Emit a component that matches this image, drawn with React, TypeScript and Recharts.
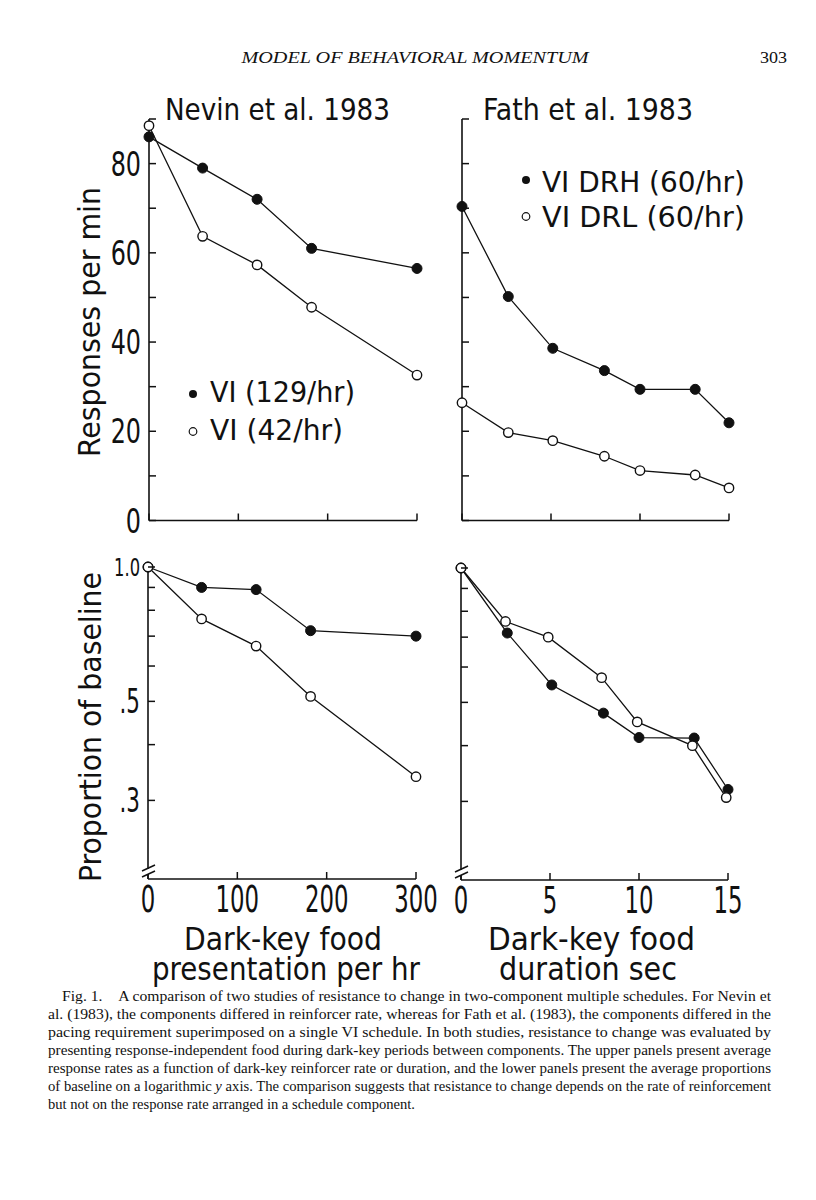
import { Line, LineChart, XAxis, YAxis } from 'recharts';

const SANS = "'DejaVu Sans Condensed', 'DejaVu Sans', sans-serif";
const SERIF = "'Liberation Serif', 'DejaVu Serif', serif";
const INK = '#111';

// Nevin et al. (1983): dark-key food presentations per hr
const nevinRate = [0, 60, 121, 182, 300];
const nevinRichRpm = [86, 79, 72, 61, 56.5]; // VI (129/hr)
const nevinLeanRpm = [88.5, 63.7, 57.3, 47.8, 32.6]; // VI (42/hr)
const nevinRichProp = [1.0, 0.9, 0.89, 0.72, 0.7];
const nevinLeanProp = [1.0, 0.765, 0.665, 0.513, 0.339];

// Fath et al. (1983): dark-key food duration, sec
const fathDur = [0, 2.6, 5.1, 8, 10, 13.1, 15];
const fathDrlDur = [0, 2.5, 4.9, 7.9, 9.9, 13, 14.9];
const fathDrhRpm = [70.4, 50.2, 38.6, 33.6, 29.4, 29.4, 21.9]; // VI DRH (60/hr)
const fathDrlRpm = [26.4, 19.7, 17.9, 14.4, 11.2, 10.2, 7.3]; // VI DRL (60/hr)
const fathDrhProp = [1.0, 0.715, 0.547, 0.473, 0.417, 0.416, 0.319];
const fathDrlProp = [1.0, 0.759, 0.7, 0.568, 0.452, 0.4, 0.306];

const rateTicks = [0, 100, 200, 300];
const durTicks = [0, 5, 10, 15];
const rpmTicks = [0, 10, 20, 30, 40, 50, 60, 70, 80, 90];
const rpmLabels = [0, 20, 40, 60, 80];
const propTicks = [0.2, 0.3, 0.4, 0.5, 0.6, 0.7, 0.8, 0.9, 1.0];
const propLabels: Record<string, string> = { '1': '1.0', '0.5': '.5', '0.3': '.3' };

const captionLines = [
  'Fig. 1.\u2002\u2002A comparison of two studies of resistance to change in two-component multiple schedules. For Nevin et',
  'al. (1983), the components differed in reinforcer rate, whereas for Fath et al. (1983), the components differed in the',
  'pacing requirement superimposed on a single VI schedule. In both studies, resistance to change was evaluated by',
  'presenting response-independent food during dark-key periods between components. The upper panels present average',
  'response rates as a function of dark-key reinforcer rate or duration, and the lower panels present the average proportions',
  'of baseline on a logarithmic | axis. The comparison suggests that resistance to change depends on the rate of reinforcement',
  'but not on the response rate arranged in a schedule component.',
];

type Pt = { x: number; y: number };
const zip = (xs: number[], ys: number[]): Pt[] => xs.map((x, i) => ({ x, y: ys[i] }));

type Series = { data: Pt[]; filled: boolean };

const textWidth = (s: string, fs: number) =>
  s.split('').reduce((sum, ch) => sum + (ch === '.' ? 0.16 * fs : 0.46 * fs), 0);

function XTick(props: any) {
  const { x, y, payload, showLabel } = props;
  const label = String(payload.value);
  return (
    <g>
      <line x1={x} x2={x} y1={y} y2={y - 7} stroke={INK} strokeWidth={1.5} />
      {showLabel && (
        <text
          x={x}
          y={y + 33}
          textAnchor="middle"
          fontFamily={SANS}
          fontSize={38}
          fill={INK}
          textLength={label.length * 14.5}
          lengthAdjust="spacingAndGlyphs"
        >
          {label}
        </text>
      )}
    </g>
  );
}

function YTick(props: any) {
  const { x, y, payload, labels, log } = props;
  const value = payload.value as number;
  if (log && value === 0.2) {
    // axis break marks at the bottom of the log axis
    return (
      <g>
        <line x1={x} x2={x} y1={y - 10} y2={y - 5} stroke="#fff" strokeWidth={3} />
        <line x1={x - 6} y1={y - 8} x2={x + 7} y2={y - 14} stroke={INK} strokeWidth={1.5} />
        <line x1={x - 6} y1={y - 2} x2={x + 7} y2={y - 8} stroke={INK} strokeWidth={1.5} />
      </g>
    );
  }
  const label: string | undefined = labels ? labels(value) : undefined;
  const fs = label && label.length > 2 ? 24 : 33;
  return (
    <g>
      <line x1={x} x2={x + 7} y1={y} y2={y} stroke={INK} strokeWidth={1.5} />
      {label && (
        <text
          x={x - 8}
          y={y + (fs > 30 ? 12 : 9)}
          textAnchor="end"
          fontFamily={SANS}
          fontSize={fs}
          fill={INK}
          textLength={textWidth(label, fs)}
          lengthAdjust="spacingAndGlyphs"
        >
          {label}
        </text>
      )}
    </g>
  );
}

function Panel({
  box,
  xDomain,
  xTicks,
  xLabels,
  yDomain,
  yTicks,
  yLabels,
  log,
  series,
}: {
  box: [number, number, number, number];
  xDomain: [number, number];
  xTicks: number[];
  xLabels: boolean;
  yDomain: [number, number];
  yTicks: number[];
  yLabels?: (v: number) => string | undefined;
  log?: boolean;
  series: Series[];
}) {
  const [x0, x1, y0, y1] = box;
  const padL = 70;
  const padT = 20;
  const padR = 45;
  const padB = 50;
  const w = x1 - x0 + padL + padR;
  const h = y1 - y0 + padT + padB;
  return (
    <div style={{ position: 'absolute', left: x0 - padL, top: y0 - padT, width: w, height: h }}>
      <LineChart width={w} height={h} margin={{ top: padT, right: padR, bottom: 0, left: 0 }}>
        <XAxis
          type="number"
          dataKey="x"
          domain={xDomain}
          ticks={xTicks}
          interval={0}
          height={padB}
          tickSize={0}
          tickMargin={0}
          tickLine={false}
          axisLine={{ stroke: INK, strokeWidth: 1.6 }}
          tick={(p: any) => <XTick {...p} showLabel={xLabels} />}
        />
        <YAxis
          type="number"
          dataKey="y"
          scale={log ? 'log' : 'linear'}
          domain={yDomain}
          ticks={yTicks}
          interval={0}
          width={padL}
          tickSize={0}
          tickMargin={0}
          tickLine={false}
          axisLine={{ stroke: INK, strokeWidth: 1.6 }}
          tick={(p: any) => <YTick {...p} labels={yLabels} log={log} />}
        />
        {series.map((s, i) => (
          <Line
            key={i}
            data={s.data}
            dataKey="y"
            type="linear"
            stroke={INK}
            strokeWidth={1.3}
            isAnimationActive={false}
            dot={
              s.filled
                ? { r: 5, fill: INK, stroke: INK, strokeWidth: 1 }
                : { r: 4.7, fill: '#fff', stroke: INK, strokeWidth: 1.4 }
            }
            activeDot={false}
          />
        ))}
      </LineChart>
    </div>
  );
}

function SansText({
  x,
  y,
  len,
  size,
  children,
  rotate,
}: {
  x: number;
  y: number;
  len: number;
  size: number;
  children: string;
  rotate?: boolean;
}) {
  return (
    <text
      x={x}
      y={y}
      fontFamily={SANS}
      fontSize={size}
      fill={INK}
      textLength={len}
      lengthAdjust="spacingAndGlyphs"
      transform={rotate ? `rotate(-90 ${x} ${y})` : undefined}
    >
      {children}
    </text>
  );
}

function CaptionLine({ text, i }: { text: string; i: number }) {
  const last = i === captionLines.length - 1;
  const x = i === 0 ? 62 : 48;
  const len = last ? 367 : 771 - x;
  const parts = text.split('|');
  return (
    <text
      x={x}
      y={1001 + 18 * i}
      fontFamily={SERIF}
      fontSize={14}
      fill={INK}
      textLength={len}
      lengthAdjust="spacingAndGlyphs"
    >
      {parts.length > 1 ? (
        <>
          {parts[0]}
          <tspan fontStyle="italic">y</tspan>
          {parts[1]}
        </>
      ) : (
        text
      )}
    </text>
  );
}

export default function App() {
  const rpmLabel = (v: number) => (rpmLabels.includes(v) ? String(v) : undefined);
  const propLabel = (v: number) => propLabels[String(v)];
  return (
    <div
      style={{
        position: 'absolute',
        left: 0,
        top: 0,
        width: 816,
        height: 1200,
        background: '#fff',
        overflow: 'hidden',
      }}
    >
      <Panel
        box={[149, 417, 118.5, 520]}
        xDomain={[0, 300]}
        xTicks={rateTicks}
        xLabels={false}
        yDomain={[0, 90]}
        yTicks={rpmTicks}
        yLabels={rpmLabel}
        series={[
          { data: zip(nevinRate, nevinLeanRpm), filled: false },
          { data: zip(nevinRate, nevinRichRpm), filled: true },
        ]}
      />
      <Panel
        box={[462, 729, 118.5, 520]}
        xDomain={[0, 15]}
        xTicks={durTicks}
        xLabels={false}
        yDomain={[0, 90]}
        yTicks={rpmTicks}
        series={[
          { data: zip(fathDur, fathDrhRpm), filled: true },
          { data: zip(fathDur, fathDrlRpm), filled: false },
        ]}
      />
      <Panel
        box={[148, 416, 567, 879]}
        xDomain={[0, 300]}
        xTicks={rateTicks}
        xLabels
        yDomain={[0.2, 1]}
        yTicks={propTicks}
        yLabels={propLabel}
        log
        series={[
          { data: zip(nevinRate, nevinRichProp), filled: true },
          { data: zip(nevinRate, nevinLeanProp), filled: false },
        ]}
      />
      <Panel
        box={[461, 728, 568, 880]}
        xDomain={[0, 15]}
        xTicks={durTicks}
        xLabels
        yDomain={[0.2, 1]}
        yTicks={propTicks}
        log
        series={[
          { data: zip(fathDur, fathDrhProp), filled: true },
          { data: zip(fathDrlDur, fathDrlProp), filled: false },
        ]}
      />

      <svg
        width={816}
        height={1200}
        style={{ position: 'absolute', left: 0, top: 0, pointerEvents: 'none' }}
      >
        <text
          x={241.5}
          y={63}
          fontFamily={SERIF}
          fontStyle="italic"
          fontSize={16}
          fill={INK}
          textLength={347}
          lengthAdjust="spacingAndGlyphs"
        >
          MODEL OF BEHAVIORAL MOMENTUM
        </text>
        <text
          x={760}
          y={63}
          fontFamily={SERIF}
          fontSize={16}
          fill={INK}
          textLength={27}
          lengthAdjust="spacingAndGlyphs"
        >
          303
        </text>

        <SansText x={165} y={120} len={225} size={30}>Nevin et al. 1983</SansText>
        <SansText x={483} y={120} len={210} size={30}>Fath et al. 1983</SansText>

        <SansText x={100} y={457} len={270} size={30} rotate>Responses per min</SansText>
        <SansText x={101} y={882} len={310} size={30} rotate>Proportion of baseline</SansText>

        <circle cx={193} cy={394} r={4} fill={INK} />
        <SansText x={210} y={402} len={145} size={28}>VI (129/hr)</SansText>
        <circle cx={193} cy={431.5} r={3.8} fill="#fff" stroke={INK} strokeWidth={1.2} />
        <SansText x={210} y={440} len={133} size={28}>VI (42/hr)</SansText>

        <circle cx={526} cy={180} r={4} fill={INK} />
        <SansText x={542} y={192} len={203} size={28}>VI DRH (60/hr)</SansText>
        <circle cx={526} cy={216.5} r={3.8} fill="#fff" stroke={INK} strokeWidth={1.2} />
        <SansText x={542} y={227} len={203} size={28}>VI DRL (60/hr)</SansText>

        <SansText x={184} y={950} len={198} size={32}>Dark-key food</SansText>
        <SansText x={152} y={980} len={268} size={32}>presentation per hr</SansText>
        <SansText x={488} y={950} len={207} size={32}>Dark-key food</SansText>
        <SansText x={499} y={980} len={178} size={32}>duration sec</SansText>

        {captionLines.map((line, i) => (
          <CaptionLine key={i} text={line} i={i} />
        ))}
      </svg>
    </div>
  );
}
